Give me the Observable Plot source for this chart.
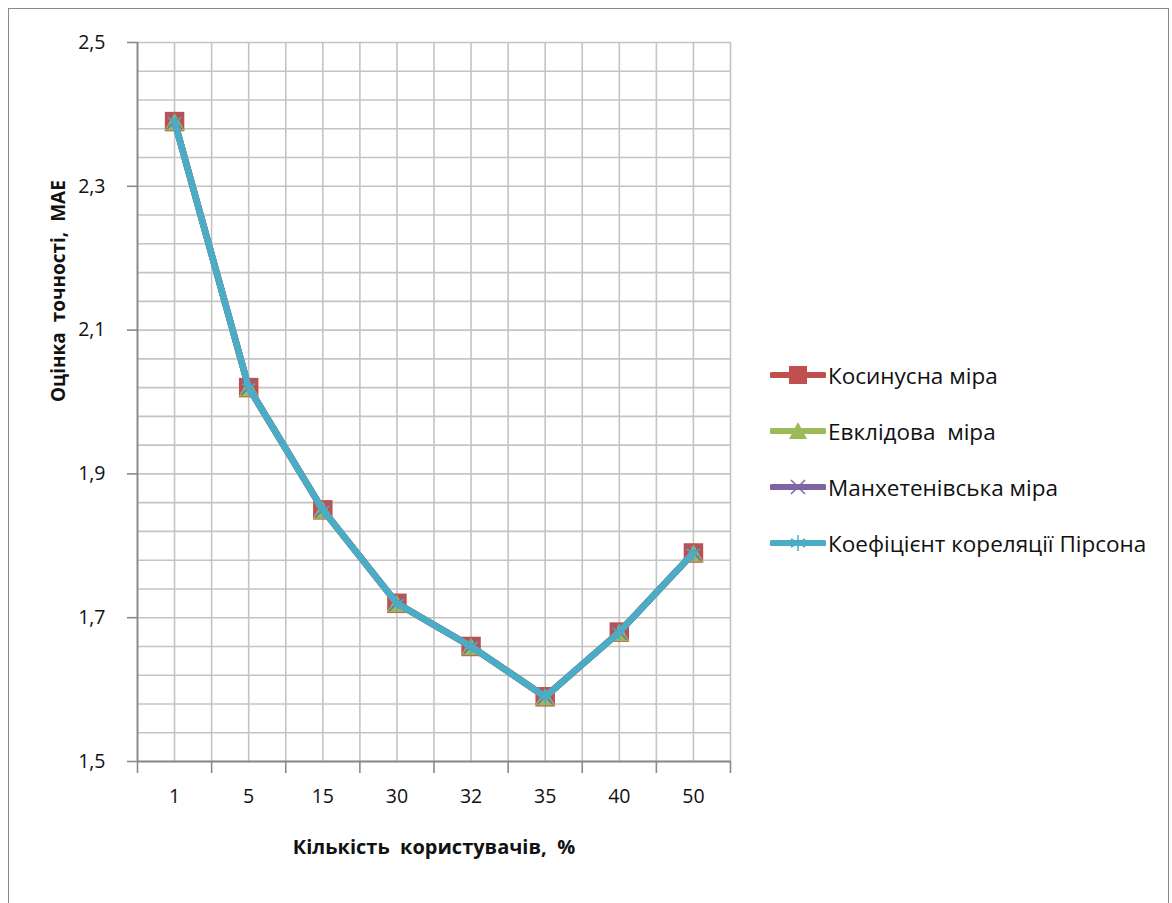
<!DOCTYPE html>
<html>
<head>
<meta charset="utf-8">
<script src="https://cdn.jsdelivr.net/npm/d3@7"></script>
<script src="https://cdn.jsdelivr.net/npm/@observablehq/plot@0.6"></script>
<style>
  html, body { margin: 0; padding: 0; background: #fff; }
  #wrap { position: relative; width: 1172px; height: 903px; overflow: hidden; font-family: "Open Sans", "Noto Sans", sans-serif; }
  #frame { position: absolute; left: 8px; top: 8px; width: 1161px; height: 920px; border: 1.5px solid #8a8a8a; box-sizing: border-box; pointer-events: none; }
  #legend { position: absolute; left: 770px; top: 347px; }
  .item { display: flex; align-items: center; height: 56px; font-size: 22.5px; color: #111; white-space: pre; }
  .item svg { margin-right: 2px; }
</style>
</head>
<body>
<div id="wrap"><div id="chart"></div><div id="legend"></div><div id="frame"></div></div>
<script>
// Category labels along the x axis (share of users, %)
const categories = ["1", "5", "15", "30", "32", "35", "40", "50"];

// MAE for each similarity measure
const cosine    = [2.39, 2.02, 1.85, 1.72, 1.66, 1.59, 1.68, 1.79];
const euclid    = [2.39, 2.02, 1.85, 1.72, 1.66, 1.59, 1.68, 1.79];
const manhattan = [2.39, 2.02, 1.85, 1.72, 1.66, 1.59, 1.68, 1.79];
const pearson   = [2.39, 2.02, 1.85, 1.72, 1.66, 1.59, 1.68, 1.79];

const seriesNames = ["Косинусна міра", "Евклідова  міра", "Манхетенівська міра", "Коефіцієнт кореляції Пірсона"];
const seriesColors = ["#C0504D", "#9BBB59", "#8064A2", "#4BACC6"];
const seriesValues = [cosine, euclid, manhattan, pearson];

const yTicks = [1.5, 1.7, 1.9, 2.1, 2.3, 2.5];
const xTitle = "Кількість  користувачів,  %";
const yTitle = "Оцінка  точності,  MAE";

const rows = seriesValues.map((vals, s) =>
  vals.map((v, i) => ({ series: s, x: i + 1, value: v }))
);

const n = categories.length;
const halfSteps = d3.range(0.5, n + 0.51, 0.5);   // vertical grid: centres and boundaries
const bounds = d3.range(0.5, n + 0.51, 1);         // tick marks between categories
const yGrid = d3.range(0, 26).map(k => 1.5 + k * 0.04);
const comma = d => d.toFixed(1).replace(".", ",");

const markerMarks = [
  data => Plot.dot(data, { x: "x", y: "value", symbol: "square", r: 11, fill: seriesColors[0] }),
  data => Plot.dot(data, { x: "x", y: "value", symbol: "triangle", r: 7.5, dy: 3, fill: seriesColors[1] }),
  data => Plot.dot(data, { x: "x", y: "value", symbol: "times", r: 7, stroke: seriesColors[2], strokeWidth: 1.5 }),
  data => Plot.dot(data, { x: "x", y: "value", symbol: "asterisk", r: 7.5, stroke: seriesColors[3], strokeWidth: 1.5 })
];

const seriesMarks = rows.flatMap((data, s) => [
  Plot.line(data, { x: "x", y: "value", stroke: seriesColors[s], strokeWidth: 6.5, strokeLinejoin: "round", strokeLinecap: "round" }),
  markerMarks[s](data)
]);

const chart = Plot.plot({
  width: 1172,
  height: 903,
  marginLeft: 137,
  marginRight: 442,
  marginTop: 42,
  marginBottom: 142,
  style: { background: "transparent", fontFamily: "'Open Sans', 'Noto Sans', sans-serif", color: "#111" },
  x: { domain: [0.5, n + 0.5], axis: null },
  y: { domain: [1.5, 2.5], axis: null },
  marks: [
    Plot.ruleX(halfSteps, { stroke: "#c4c4c4", strokeWidth: 1.6 }),
    Plot.ruleY(yGrid, { stroke: "#c4c4c4", strokeWidth: 1.6 }),
    Plot.axisX({ ticks: bounds, tickSize: 12, tickFormat: () => "", stroke: "#8a8a8a", strokeWidth: 1.6, label: null }),
    Plot.axisX({ ticks: d3.range(1, n + 1), tickSize: 0, tickPadding: 28, tickFormat: i => categories[i - 1], fontSize: 19.5, label: null }),
    Plot.axisY({ ticks: yTicks, tickSize: 10, tickPadding: 22, tickFormat: comma, stroke: "#8a8a8a", strokeWidth: 1.6, fontSize: 19.5, label: null }),
    Plot.ruleY([1.5], { stroke: "#8a8a8a", strokeWidth: 1.8 }),
    Plot.ruleX([0.5], { stroke: "#8a8a8a", strokeWidth: 1.8 }),
    ...seriesMarks,
    Plot.text([xTitle], { frameAnchor: "bottom", dy: 92, fontSize: 20, fontWeight: "bold", fill: "#111", text: d => d }),
    Plot.text([yTitle], { frameAnchor: "left", dx: -79, rotate: -90, fontSize: 19, fontWeight: "bold", fill: "#111", text: d => d })
  ]
});
document.getElementById("chart").appendChild(chart);

// Legend: line swatch with the series marker, then the series name
const legend = d3.select("#legend");
seriesNames.forEach((name, s) => {
  const item = legend.append("div").attr("class", "item");
  const svg = item.append("svg").attr("width", 56).attr("height", 24);
  svg.append("line").attr("x1", 2).attr("x2", 54).attr("y1", 12).attr("y2", 12)
    .attr("stroke", seriesColors[s]).attr("stroke-width", 6).attr("stroke-linecap", "round");
  const g = svg.append("g").attr("transform", "translate(28,12)");
  if (s === 0) g.append("rect").attr("x", -9).attr("y", -9).attr("width", 18).attr("height", 18).attr("fill", seriesColors[s]);
  if (s === 1) g.append("path").attr("d", "M0,-9L9,8L-9,8Z").attr("fill", seriesColors[s]);
  if (s === 2) g.append("path").attr("d", "M-7,-7L7,7M7,-7L-7,7").attr("stroke", seriesColors[s]).attr("stroke-width", 1.5);
  if (s === 3) g.append("path").attr("d", "M0,-8L0,8M-7,-4L7,4M7,-4L-7,4").attr("stroke", seriesColors[s]).attr("stroke-width", 1.5);
  item.append("span").text(name);
});
</script>
</body>
</html>
